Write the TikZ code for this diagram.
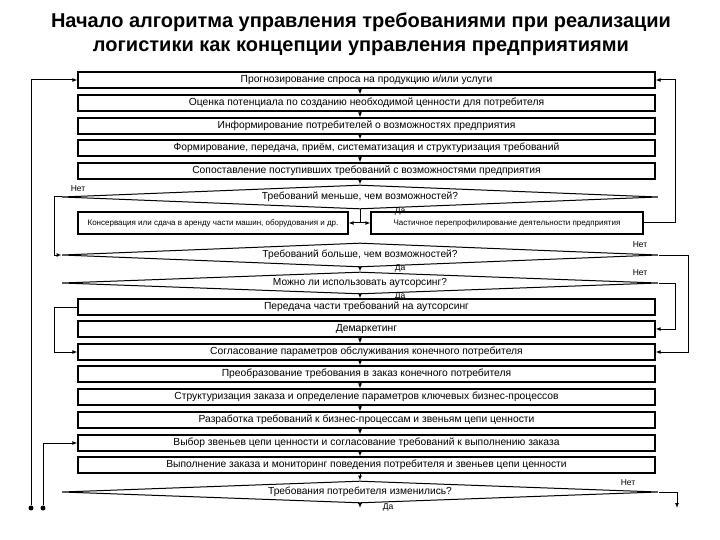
\documentclass[tikz,border=0pt]{standalone}
\usepackage{fontspec}
\setmainfont{Liberation Sans}
\usetikzlibrary{shapes.geometric, arrows.meta}

\begin{document}
\begin{tikzpicture}[x=1pt, y=-1pt,
    stage/.style={draw, line width=1.2pt, minimum width=577pt, minimum height=16pt, inner sep=0pt, font=\fontsize{10.3}{12}\selectfont},
    side/.style={draw, line width=1.2pt, minimum height=22pt, inner sep=0pt, font=\fontsize{8}{9}\selectfont},
    query/.style={diamond, draw, line width=1pt, fill=white, aspect=25, inner sep=0pt, minimum width=596pt, minimum height=24pt, font=\fontsize{10.2}{12}\selectfont},
    flow/.style={line width=1pt, -{Latex[length=5pt, width=4pt]}},
    link/.style={line width=1pt},
    tag/.style={font=\fontsize{8.5}{10}\selectfont, inner sep=1pt},
    dot/.style={circle, fill, inner sep=0pt, minimum size=5pt}]
    \useasboundingbox (0,0) rectangle (720,540);

    % Title
    \node[font=\bfseries\fontsize{20}{24}\selectfont, align=center] (title) at (361,34)
        {Начало алгоритма управления требованиями при реализации\\логистики как концепции управления предприятиями};

    % Upper stages
    \node[stage] (forecast) at (366.5,80) {Прогнозирование спроса на продукцию и/или услуги};
    \node[stage] (assess) at (366.5,103) {Оценка потенциала по созданию необходимой ценности для потребителя};
    \node[stage] (inform) at (366.5,126) {Информирование потребителей о возможностях предприятия};
    \node[stage] (collect) at (366.5,148) {Формирование, передача, приём, систематизация и структуризация требований};
    \node[stage] (compare) at (366.5,171) {Сопоставление поступивших требований с возможностями предприятия};

    % First decision and its two boxes
    \node[query] (dless) at (360,197) {Требований меньше, чем возможностей?};
    \node[side, minimum width=270pt] (conserve) at (213,223) {Консервация или сдача в аренду части машин, оборудования и др.};
    \node[side, minimum width=272pt] (reprofile) at (507,223) {Частичное перепрофилирование деятельности предприятия};

    % Second and third decisions
    \node[query] (dmore) at (360,255) {Требований больше, чем возможностей?};
    \node[query, minimum height=22pt] (doutsrc) at (360,283) {Можно ли использовать аутсорсинг?};

    % Lower stages
    \node[stage] (outsrc) at (366.5,307) {Передача части требований на аутсорсинг};
    \node[stage] (demark) at (366.5,329) {Демаркетинг};
    \node[stage] (agree) at (366.5,352) {Согласование параметров обслуживания конечного потребителя};
    \node[stage] (convert) at (366.5,374) {Преобразование требования в заказ конечного потребителя};
    \node[stage] (struct) at (366.5,397) {Структуризация заказа и определение параметров ключевых бизнес-процессов};
    \node[stage] (develop) at (366.5,420) {Разработка требований к бизнес-процессам и звеньям цепи ценности};
    \node[stage] (select) at (366.5,443) {Выбор звеньев цепи ценности и согласование требований к выполнению заказа};
    \node[stage] (execute) at (366.5,465) {Выполнение заказа и мониторинг поведения потребителя и звеньев цепи ценности};

    % Last decision
    \node[query, minimum height=22pt] (dchange) at (360,492) {Требования потребителя изменились?};

    % Free ends
    \coordinate (axis) at (360,0);
    \coordinate (yes1) at (360,223);
    \coordinate (endyes) at (360,508);
    \coordinate (endno) at (677,508);
    \node[dot] (start1) at (31,508) {};
    \node[dot] (start2) at (43,508) {};

    % Main column of arrows
    \foreach \a/\b in {forecast/assess, assess/inform, inform/collect, collect/compare, compare/dless,
                       dmore/doutsrc, doutsrc/outsrc, demark/agree, agree/convert, convert/struct,
                       struct/develop, develop/select, select/execute, execute/dchange}
        \draw[flow] (\a.south -| axis) -- (\b.north -| axis);
    \draw[flow] (dchange.south) -- (endyes);

    % Branches of the first decision
    \draw[link] (dless.south) -- (yes1);
    \draw[flow] (yes1) -- (conserve.east);
    \draw[flow] (yes1) -- (reprofile.west);
    \draw[flow] (dless.west) -- ++(-7,0) |- (dmore.west);
    \draw[flow] (reprofile.east) -- ++(32,0) |- (forecast.east);

    % Branches of the other decisions
    \draw[flow] (dmore.east) -- ++(30,0) |- (agree.east);
    \draw[flow] (doutsrc.east) -- ++(17,0) |- (demark.east);
    \draw[flow] (outsrc.west) -- ++(-23,0) |- (agree.west);
    \draw[flow] (dchange.east) -| (endno);

    % Returns on the left
    \draw[flow] (start1) |- (forecast.west);
    \draw[flow] (start2) |- (select.west);

    % Answers
    \node[tag] (no1) at (78,189) {Нет};
    \node[tag] (yes1t) at (400,211) {Да};
    \node[tag] (no2) at (640,245) {Нет};
    \node[tag] (yes2) at (400,268) {Да};
    \node[tag] (no3) at (640,273) {Нет};
    \node[tag] (yes3) at (400,296) {Да};
    \node[tag] (no4) at (628,483) {Нет};
    \node[tag] (yes4) at (388,507) {Да};

\end{tikzpicture}
\end{document}
